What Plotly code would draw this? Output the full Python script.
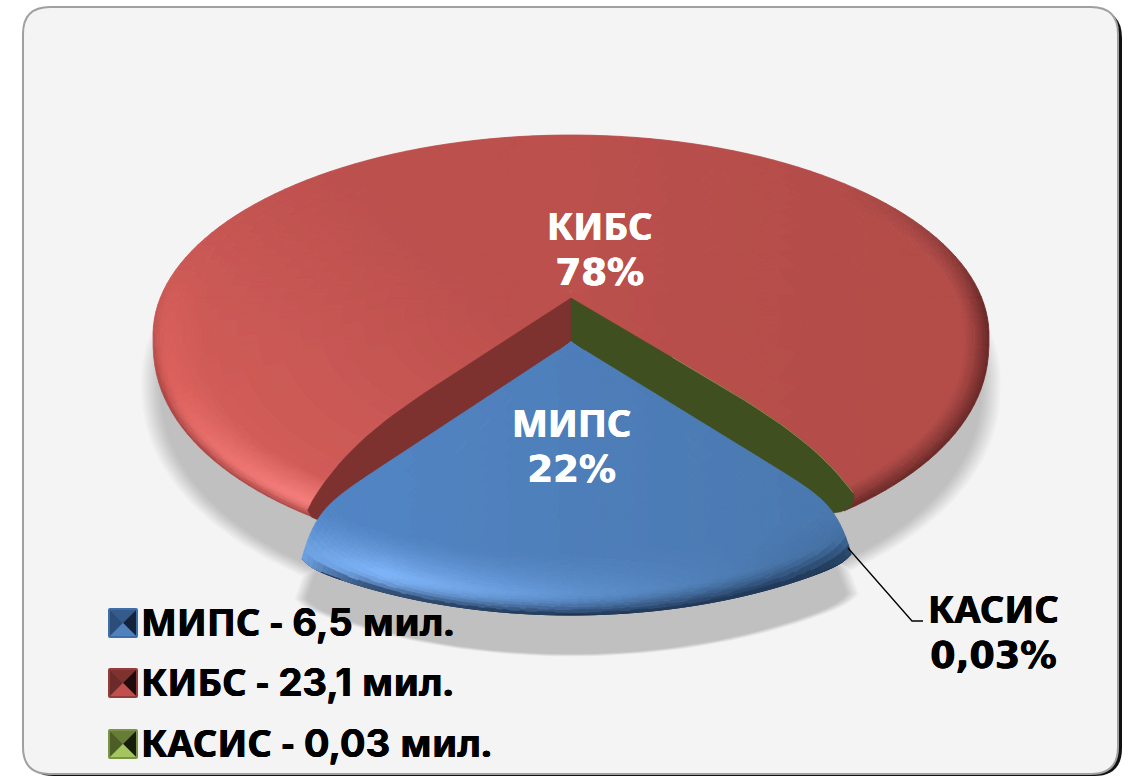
import numpy as np
import plotly.graph_objects as go

# Chart data
categories = ["МИПС", "КИБС", "КАСИС"]
values_mil = [6.5, 23.1, 0.03]
value_labels = ["6,5", "23,1", "0,03"]
percent_labels = ["22%", "78%", "0,03%"]

# Original face is Tahoma Bold: Noto is close for the letters, the digits are wider there
FONT = "Noto Sans"
DIGIT_FONT = "Inter"
PERCENT_FONT = "DejaVu Sans"
FONT_SIZE = 38
WALL_RED = "#7d3230"
WALL_GREEN = "#404f20"

# Slice angles, clockwise on screen, 0 pointing at the viewer
total = sum(values_mil)
sweeps = [2 * np.pi * v / total for v in values_mil]
rotation = np.radians(-0.95)
blue_start = rotation - sweeps[0] / 2
blue_end = rotation + sweeps[0] / 2
red_end = blue_end + sweeps[1]
green_end = red_end + sweeps[2]

# Pie projection on the page (pixels)
CX = 571
RED_APEX, RED_YC, RED_A, RED_B, RED_RIM = 298, 335, 418, 200, 27
BLUE_APEX, BLUE_YC, BLUE_A, BLUE_B = 342, 385, 432, 230


def hex2rgb(c):
    return np.array([int(c[i:i + 2], 16) for i in (1, 3, 5)], dtype=float)


def clamp(t):
    return min(max(t, 0.0), 1.0)


def mix(c1, c2, t):
    c1 = hex2rgb(c1) if isinstance(c1, str) else c1
    c2 = hex2rgb(c2) if isinstance(c2, str) else c2
    t = clamp(t)
    return c1 * (1 - t) + c2 * t


def to_css(rgb):
    r, g, b = [int(round(v / 2) * 2) for v in rgb]
    return f"rgb({min(r, 255)},{min(g, 255)},{min(b, 255)})"


def red_edge(phi):
    # Silhouette of the red slice: the ellipse plus the rounded rim in front
    c = np.cos(phi)
    return CX - RED_A * np.sin(phi), RED_YC + RED_B * c + RED_RIM * np.maximum(c, 0) ** 0.35


def blue_edge(phi):
    return CX - BLUE_A * np.sin(phi), BLUE_YC + BLUE_B * np.cos(phi)


def bulge(r, k, n):
    return k * r * (1 - r ** n)


def add_mesh(fig, phis, rs, point, color):
    # Small quads grouped by colour, this is how the soft shading is done
    groups = {}
    for i in range(len(phis) - 1):
        for j in range(len(rs) - 1):
            pm, rm = (phis[i] + phis[i + 1]) / 2, (rs[j] + rs[j + 1]) / 2
            col = to_css(color(pm, rm))
            xs, ys = groups.setdefault(col, ([], []))
            for p, r in [(phis[i], rs[j]), (phis[i + 1], rs[j]), (phis[i + 1], rs[j + 1]), (phis[i], rs[j + 1]), (phis[i], rs[j])]:
                x, y = point(p, r)
                xs.append(x)
                ys.append(y)
            xs.append(None)
            ys.append(None)
    for col, (xs, ys) in groups.items():
        fig.add_trace(go.Scatter(x=xs, y=ys, mode="lines", fill="toself", fillcolor=col,
                                 line=dict(color=col, width=0.8), hoverinfo="skip", showlegend=False))


def red_point(phi, r):
    x, y = red_edge(phi)
    return CX + r * (x - CX), RED_APEX + r * (y - RED_APEX)


def red_color(phi, r):
    x, y = red_point(phi, r)
    ex, ey = red_edge(phi)
    d = (1 - r) * np.hypot(ex - CX, ey - RED_APEX)
    c = np.cos(phi)
    side = clamp((x - 560) / 300)
    base = mix("#bc504d", "#dc625e", (480 - x) / 330 * 0.6 + (y - 300) / 200 * 0.4)
    base = mix(base, "#b34c49", side)
    # left and front: highlight close to the edge, a thin darker line at the edge
    hl = mix("#dd615c", "#f47c7a", (c - 0.2) / 0.55)
    left = mix(base, hl, clamp((48 - d) / 32) * clamp((c + 0.35) / 0.6))
    left = mix(left, "#a54341", clamp((14 - d) / 14) ** 2 * clamp((c + 0.3) / 0.5))
    # right: it just gets darker
    right = mix(base, "#682826", clamp((26 - d) / 26) ** 1.3 * clamp((c + 0.75) / 0.6))
    return mix(left, right, clamp((ex - CX) / 120))


def blue_point(phi, r):
    x, y = blue_edge(phi)
    w = (abs(phi - rotation) / (sweeps[0] / 2)) ** 5
    return CX + r * (x - CX), BLUE_APEX + r * (y - BLUE_APEX) - w * bulge(r, 40, 20) - r * 6 * w ** 6


def blue_color(phi, r):
    x, y = blue_point(phi, r)
    # real height above the front edge at this x
    d = BLUE_YC + BLUE_B * np.sqrt(1 - ((x - CX) / BLUE_A) ** 2) - y
    w = clamp((x - 300) / 553)
    base = mix("#5286c6", "#4a77ae", w)
    if w < 0.15:
        hl = mix("#6a9fe0", "#7fb5fa", w / 0.15)
    elif w < 0.5:
        hl = mix("#7fb5fa", "#5f92d0", (w - 0.15) / 0.35)
    else:
        hl = mix("#5f92d0", "#3f6a9b", (w - 0.5) / 0.5)
    col = mix(base, hl, clamp((62 - d) / 42) ** 1.4)
    p = 3.5 - 2.5 * w + 4 * clamp(1 - w / 0.12)
    return mix(col, "#1c3250", clamp((24 - d) / 24) ** p)


def sector_outline(point, start, end, n=120):
    # Slice outline going the same way round for every slice
    rs = np.linspace(0, 1, 30)
    arc = [point(p, 1) for p in np.linspace(start, end, n)]
    first = [point(start, r) for r in rs]
    last = [point(end, r) for r in rs[::-1]]
    pts = first + arc + last
    return np.array([p[0] for p in pts]), np.array([p[1] for p in pts])


fig = go.Figure()

# Soft shadows: both slice shapes moved down, stacked with low alpha, one path per layer so they do not add up
n_blur = 11
alpha = 1 - (1 - 0.21) ** (1 / n_blur)
red_px, red_py = sector_outline(red_point, blue_end, red_end, 200)
blue_px, blue_py = sector_outline(blue_point, blue_start, blue_end, 80)
for k in range(n_blur):
    s = 1.028 - 0.045 * k / (n_blur - 1)
    xs = list(CX + (red_px - CX) * s) + [None] + list(CX + (blue_px - CX) * s)
    ys = list(390 + (red_py - 345) * s * 1.06) + [None] + list(595 + (blue_py - 555) * s)
    fig.add_trace(go.Scatter(x=xs, y=ys, mode="lines", fill="toself", fillcolor=f"rgba(0,0,0,{alpha:.4f})",
                             line=dict(width=0), hoverinfo="skip", showlegend=False))

# КИБС surface, finer rows towards the edge
red_phis = np.linspace(blue_end, red_end, 141)
red_rs = np.concatenate([np.arange(0, 0.87, 0.05), np.arange(0.875, 1.0, 0.006), [1.0]])
add_mesh(fig, red_phis, red_rs, red_point, red_color)


# Cut walls of the КИБС slice (the green one is the thin КАСИС slice)
def wall(phi, color, end_x, end_y, tail, k, edge=None):
    r = np.linspace(0, 1, 40)
    ex = CX + r * (end_x - CX)
    ey = RED_APEX + r * (end_y - RED_APEX) - bulge(r, k, 6)
    xs = list(ex) + [end_x + t[0] for t in tail] + [CX, CX]
    ys = list(ey) + [end_y + t[1] for t in tail] + [RED_APEX + 60, RED_APEX]
    fig.add_trace(go.Scatter(x=xs, y=ys, mode="lines", fill="toself", fillcolor=color,
                             line=dict(color=color, width=0.5), hoverinfo="skip", showlegend=False))
    if edge:
        fig.add_trace(go.Scatter(x=ex[14:], y=ey[14:], mode="lines", line=dict(color=edge, width=1),
                                 hoverinfo="skip", showlegend=False))


wx, wy = red_edge(blue_end)
wall(blue_end, WALL_RED, wx + 2, wy - 16, [(-5, 10), (-1, 17), (6, 20), (18, 21)], 36)
wx, wy = red_edge(green_end)
wall(green_end, WALL_GREEN, wx + 11, wy - 19, [(1, 6), (-2, 14), (-12, 19), (-30, 22)], 30, edge="#8f8450")

# МИПС slice, pulled out to the front
blue_phis = np.linspace(blue_start, blue_end, 101)
blue_rs = np.concatenate([np.arange(0, 0.7, 0.05), np.arange(0.7, 1.0, 0.01), [1.0]])
add_mesh(fig, blue_phis, blue_rs, blue_point, blue_color)

# Leader line of КАСИС
fig.add_trace(go.Scatter(x=[848, 912, 923], y=[548, 621, 621], mode="lines",
                         line=dict(color="black", width=1.3), hoverinfo="skip", showlegend=False))


def span(text, family=FONT, size=FONT_SIZE):
    return f'<span style="font-family:{family};font-size:{size}px"><b>{text}</b></span>'


def add_text(x, y, text, color, anchor="center"):
    # base size sets the line spacing (1.3 em), the spans set the glyphs; the shadow thickens them a bit
    fig.add_annotation(x=x, y=y, text=text, xanchor=anchor, showarrow=False, xref="x", yref="y",
                       font=dict(family=FONT, size=34.6, color=color,
                                 shadow=f"0.4px 0 0 {color}, -0.4px 0 0 {color}"))


# Slice labels
add_text(600, 246, f"{span(categories[1])}<br>{span(percent_labels[1], PERCENT_FONT, 37)}", "white")
add_text(571, 443, f"{span(categories[0])}<br>{span(percent_labels[0], PERCENT_FONT, 37)}", "white")
add_text(993, 629, f"{span(categories[2])}<br>{span(percent_labels[2], PERCENT_FONT, 36.5)}", "black")

# Hand-made legend with the pyramid markers
legend_y = [623, 683, 744]
legend_colors = [
    ("#3d6ea8", "#2b4d78", "#355a8c", "#14233a", "#4f81bd"),
    ("#953c3a", "#6c2b2a", "#7d3230", "#1f0d0d", "#c0504d"),
    ("#7a9345", "#4d5d28", "#667d38", "#171d0b", "#a5c65f"),
]
shapes = []


def rounded_rect(x0, y0, x1, y1, rad):
    return (f"M{x0 + rad},{y0} L{x1 - rad},{y0} Q{x1},{y0} {x1},{y0 + rad} L{x1},{y1 - rad} Q{x1},{y1} {x1 - rad},{y1} "
            f"L{x0 + rad},{y1} Q{x0},{y1} {x0},{y1 - rad} L{x0},{y0 + rad} Q{x0},{y0} {x0 + rad},{y0} Z")


# Panel behind the chart
shapes.append(dict(type="path", path=rounded_rect(26, 10, 1122, 776, 28), fillcolor="#111111", line_width=0, layer="below"))
shapes.append(dict(type="path", path=rounded_rect(22, 6, 1119, 775, 28), fillcolor="#a0a0a0", line_width=0, layer="below"))
shapes.append(dict(type="path", path=rounded_rect(24, 8, 1117, 773, 26), fillcolor="#f4f4f4", line_width=0, layer="below"))

for name, val, y, cols in zip(categories, value_labels, legend_y, legend_colors):
    rim, left, top, right, bottom = cols
    x0, x1, y0, y1 = 108, 138, y - 15, y + 15
    mx, my = (x0 + x1) / 2, (y0 + y1) / 2
    shapes.append(dict(type="path", path=rounded_rect(x0, y0, x1, y1, 2), fillcolor=rim, line_width=0))
    i0, i1, j0, j1 = x0 + 2, x1 - 2, y0 + 2, y1 - 2
    for col, p1, p2 in [(left, (i0, j0), (i0, j1)), (top, (i0, j0), (i1, j0)),
                        (right, (i1, j0), (i1, j1)), (bottom, (i0, j1), (i1, j1))]:
        shapes.append(dict(type="path", path=f"M{p1[0]},{p1[1]} L{p2[0]},{p2[1]} L{mx},{my} Z", fillcolor=col, line_width=0))
    add_text(139, y - 2, f"{span(name + ' - ')}{span(val, DIGIT_FONT)}{span(' мил.')}", "black", anchor="left")

fig.update_layout(
    width=1132, height=777,
    margin=dict(l=0, r=0, t=0, b=0),
    paper_bgcolor="white", plot_bgcolor="rgba(0,0,0,0)",
    showlegend=False, shapes=shapes,
    xaxis=dict(range=[0, 1132], visible=False, fixedrange=True),
    yaxis=dict(range=[777, 0], visible=False, fixedrange=True),
)

fig.write_html("out.html", post_script="document.body.style.margin='0';", config=dict(displayModeBar=False))
